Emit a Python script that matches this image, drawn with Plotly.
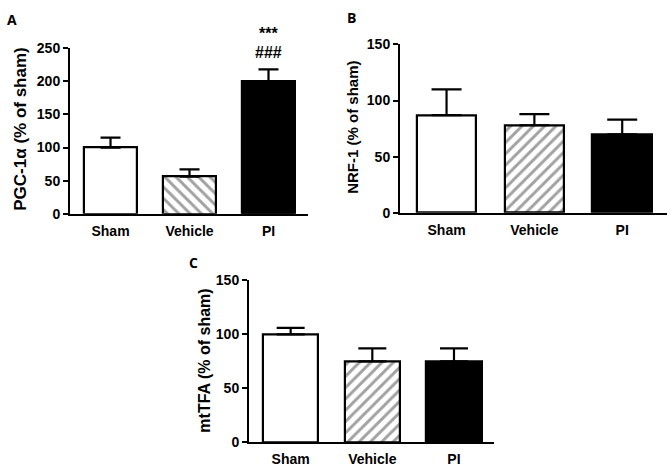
import plotly.graph_objects as go

W, H = 672, 473

categories = ["Sham", "Vehicle", "PI"]
pgc_mean = [100, 56, 200]
pgc_sem = [15, 11, 18]
nrf_mean = [87, 78, 70]
nrf_sem = [23, 10, 13]
mttfa_mean = [100, 75, 75]
mttfa_sem = [6, 12, 12]
pgc_marks = ["***", "###"]

panels = [
    # (axis suffix, means, sems, hatch for vehicle, cap half-width)
    ("", pgc_mean, pgc_sem, "\\", 10),
    ("2", nrf_mean, nrf_sem, "/", 15),
    ("3", mttfa_mean, mttfa_sem, "/", 14),
]

FONT = "Liberation Sans, Arial, sans-serif"

fig = go.Figure()
for suf, mean, sem, hatch, capw in panels:
    fig.add_trace(go.Bar(
        x=[0, 1, 2], y=mean,
        xaxis="x" + suf, yaxis="y" + suf,
        width=0.68,
        marker=dict(
            color=["white", "white", "black"],
            line=dict(color="black", width=2.2),
            pattern=dict(shape=["", hatch, ""], fgcolor="black", bgcolor="white",
                         size=8, solidity=0.36),
        ),
        error_y=dict(type="data", array=sem, arrayminus=[0, 0, 0], symmetric=False,
                     color="black", thickness=2.2, width=capw),
        showlegend=False, hoverinfo="skip",
    ))

def px_x(a, b):
    return [a / W, b / W]

def px_y(top, bottom):
    return [1 - bottom / H, 1 - top / H]

tickfont = dict(family=FONT, size=14, color="black", weight="bold")
common_x = dict(tickmode="array", tickvals=[0, 1, 2], ticktext=categories,
                showline=True, linecolor="black", linewidth=2, ticks="",
                tickfont=tickfont, showgrid=False, zeroline=False, fixedrange=True,
                ticklabelstandoff=3)
common_y = dict(showline=True, linecolor="black", linewidth=2, ticks="outside",
                ticklen=5, tickwidth=2, tickcolor="black", tickfont=tickfont,
                showgrid=False, zeroline=False, fixedrange=True, dtick=50, tick0=0)

fig.update_layout(
    width=W, height=H, margin=dict(l=0, r=0, t=0, b=0),
    paper_bgcolor="white", plot_bgcolor="white",
    bargap=0,
    xaxis=dict(domain=px_x(70, 308), range=[-0.513, 2.5], anchor="y", **common_x),
    yaxis=dict(domain=px_y(41.7, 213), range=[0, 250], anchor="x", **common_y),
    xaxis2=dict(domain=px_x(400, 667), range=[-0.53, 2.51], anchor="y2", **common_x),
    yaxis2=dict(domain=px_y(37.7, 212), range=[0, 150], anchor="x2", **common_y),
    xaxis3=dict(domain=px_x(249, 494), range=[-0.51, 2.49], anchor="y3", **common_x),
    yaxis3=dict(domain=px_y(282, 449.3), range=[0, 150], anchor="x3", **common_y),
)

ann = []
# panel letters
for letter, x, y in [("A", 12, 12), ("B", 351, 10), ("C", 193, 263)]:
    ann.append(dict(text=letter, x=x / W, y=1 - y / H, xref="paper", yref="paper",
                    showarrow=False, xanchor="center", yanchor="middle",
                    font=dict(family="Open Sans, " + FONT, size=14, color="black", weight="bold")))
# y-axis titles
for text, x, y, size in [("PGC-1α (% of sham)", 21, 126, 17),
                         ("NRF-1 (% of sham)", 353, 124, 15),
                         ("mtTFA (% of sham)", 205, 365, 16)]:
    ann.append(dict(text=text, x=x / W, y=1 - y / H, xref="paper", yref="paper",
                    showarrow=False, textangle=-90, xanchor="center", yanchor="middle",
                    font=dict(family=FONT, size=size, color="black", weight="bold")))
# significance marks over PI bar in panel A
for mark, shift in zip(pgc_marks, [25, 6]):
    ann.append(dict(text=mark, x=2, y=pgc_mean[2] + pgc_sem[2], xref="x", yref="y",
                    showarrow=False, xanchor="center", yanchor="bottom", yshift=shift,
                    font=dict(family=FONT, size=16, color="black", weight="bold")))
fig.update_layout(annotations=ann)

fig.write_html("out.html", config={"displayModeBar": False},
               post_script="document.body.style.margin='0';document.body.style.overflow='hidden';")
